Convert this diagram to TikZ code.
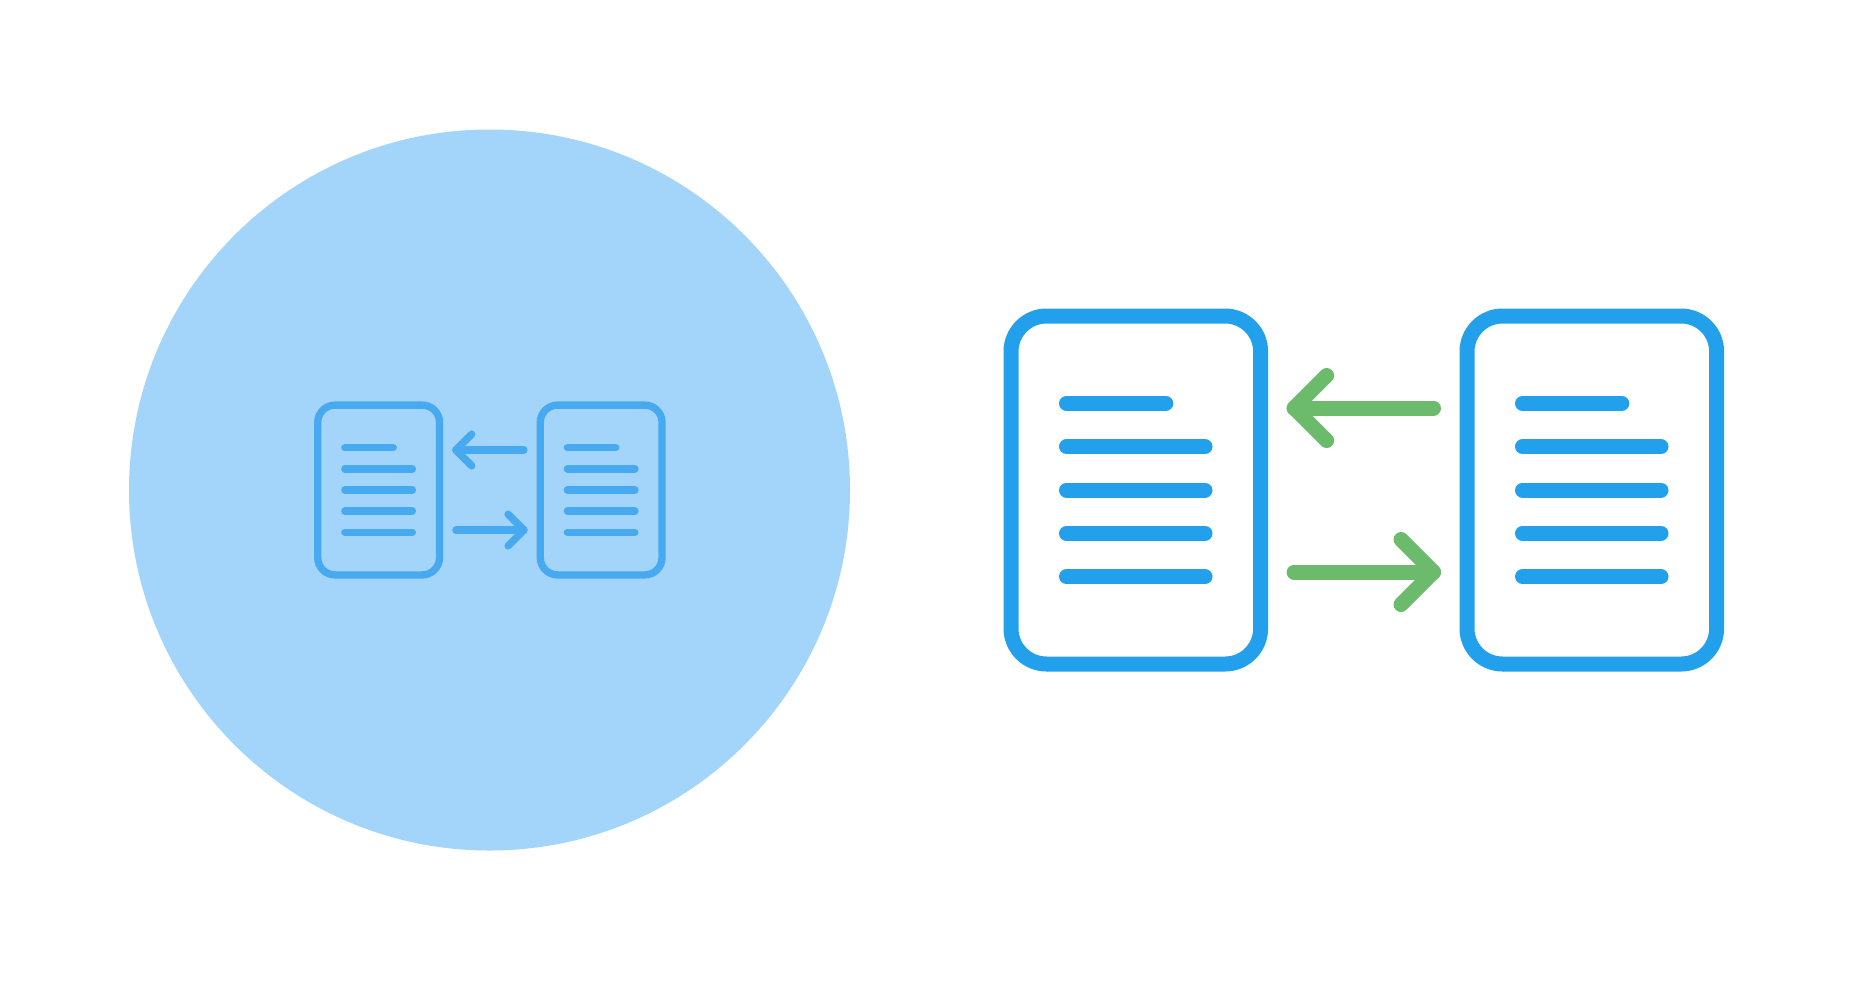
\documentclass[tikz,border=0pt]{standalone}
\usetikzlibrary{calc}
\definecolor{discblue}{HTML}{A3D4F9}
\definecolor{softblue}{HTML}{47AAF0}
\definecolor{sheetblue}{HTML}{22A0EB}
\definecolor{arrowgreen}{HTML}{6CBB6C}
\def\exchangeicon[#1,#2](#3,#4)(#5){
	\begin{scope}[shift={(#3, #4)}, scale=#5, line cap=round, line join=round, line width=#5*1.5mm]
		\foreach \sheetx in {-2.28, 2.28} {
			\draw[color=#1, rounded corners=#5*0.355cm] (\sheetx-1.248, -1.74) rectangle (\sheetx+1.248, 1.74);
			\draw[color=#1] (\sheetx-0.693, 0.867) -- (\sheetx+0.3, 0.867);
			\foreach \rowy in {0.433, 0, -0.433, -0.867} {
				\draw[color=#1] (\sheetx-0.693, \rowy) -- (\sheetx+0.692, \rowy);
			}
		}
		\coordinate (backstart) at (0.697, 0.82);
		\coordinate (backtip) at (-0.697, 0.82);
		\draw[color=#2] (backstart) -- (backtip);
		\draw[color=#2] ($(backtip)+(0.325, 0.325)$) -- (backtip) -- ($(backtip)+(0.325, -0.325)$);
		\coordinate (forthstart) at (-0.697, -0.82);
		\coordinate (forthtip) at (0.697, -0.82);
		\draw[color=#2] (forthstart) -- (forthtip);
		\draw[color=#2] ($(forthtip)+(-0.325, 0.325)$) -- (forthtip) -- ($(forthtip)+(-0.325, -0.325)$);
	\end{scope}
}
\begin{document}
\begin{tikzpicture}
	%%%%% START %%%%%
	
	\useasboundingbox (0, 0) rectangle (18.54, 9.8);
	\fill[white] (0, 0) rectangle (18.54, 9.8);
	
	\fill[color=discblue] (4.895, 4.9) circle (3.605);
	
	\exchangeicon[softblue,softblue](4.899, 4.9)(0.488);
	\exchangeicon[sheetblue,arrowgreen](13.638, 4.9)(1);
	
	%%%%% END %%%%%
\end{tikzpicture}
\end{document}
